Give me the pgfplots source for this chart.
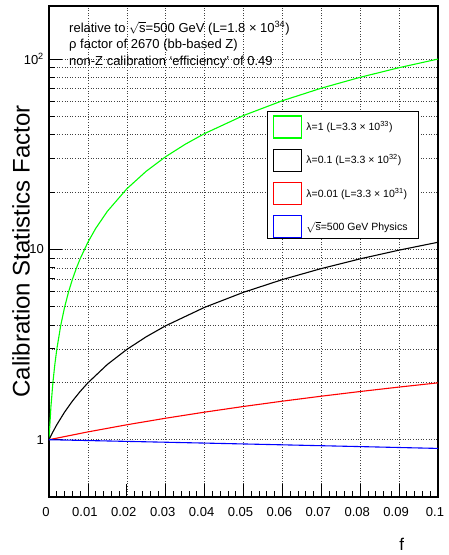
\documentclass[border=0pt]{standalone}
\usepackage{fontspec}
\setmainfont{Liberation Sans}
\usepackage{pgfplots}
\pgfplotsset{compat=1.18}
\definecolor{rgreen}{RGB}{0,255,0}
\definecolor{rred}{RGB}{255,0,0}
\definecolor{rblue}{RGB}{0,0,255}
\begin{document}
\begin{tikzpicture}
\path[use as bounding box] (-49pt,-58pt) rectangle (400pt,497pt);
\begin{axis}[
 at={(0pt,0pt)}, anchor=south west,
 scale only axis, width=389pt, height=491pt,
 xmin=0, xmax=0.1, ymin=0.5, ymax=190,
 ymode=log,
 axis line style={line width=1.2pt},
 tick pos=left, tick align=inside,
 xtick={0,0.01,0.02,0.03,0.04,0.05,0.06,0.07,0.08,0.09,0.1},
 xticklabels={0,0.01,0.02,0.03,0.04,0.05,0.06,0.07,0.08,0.09,0.1},
 minor x tick num=4,
 ytick={1,10,100}, yticklabels={1,10,10\textsuperscript{2}},
 major tick length=13pt, minor tick length=6pt,
 every tick/.style={line width=0.8pt, black},
 xmajorgrids, ymajorgrids, yminorgrids,
 grid style={dotted, line width=0.6pt, black!75},
 major grid style={dotted, line width=0.6pt, black!75},
 minor grid style={dotted, line width=0.6pt, black!75},
 ticklabel style={font=\fontsize{13}{15}\selectfont},
 xticklabel style={anchor=north, inner sep=0pt, yshift=-10pt, xshift=-3pt},
 yticklabel style={anchor=east, inner sep=0pt, xshift=-5pt},
 xlabel={f},
 xlabel style={at={(rel axis cs:0.907,0)}, anchor=base, yshift=-53pt, font=\fontsize{17}{20}\selectfont, inner sep=0pt},
 ylabel={Calibration Statistics Factor},
 ylabel style={at={(axis description cs:-0.0488,0.5)}, anchor=south, inner sep=0pt, font=\fontsize{24}{28}\selectfont},
 legend style={at={(0.5758,0.778)}, anchor=north west, draw=none, fill=none,
   font=\fontsize{10.5}{12}\selectfont, inner sep=0pt, row sep=10pt, column sep=4pt,
   nodes={inner sep=0pt}, cells={anchor=west}},
]
\addplot[rgreen, line width=1.1pt,
  legend image code/.code={\draw[draw=rgreen, line width=1.3pt] (0pt,-11pt) rectangle (28pt,11pt);}] coordinates {
 (0,1) (0.0005,1.495) (0.001,1.99) (0.0015,2.485) (0.002,2.98) (0.003,3.97) (0.004,4.96)
 (0.005,5.95) (0.006,6.94) (0.007,7.93) (0.008,8.92) (0.01,10.9) (0.012,12.88) (0.015,15.85)
 (0.02,20.8) (0.025,25.75) (0.03,30.7) (0.035,35.65) (0.04,40.6) (0.05,50.5) (0.06,60.4)
 (0.07,70.3) (0.08,80.2) (0.09,90.1) (0.1,100)};
\addlegendentry{λ=1 (L=3.3 × 10\textsuperscript{33})}
\addplot[black, line width=1.1pt,
  legend image code/.code={\draw[draw=black, line width=1.3pt] (0pt,-11pt) rectangle (28pt,11pt);}] coordinates {
 (0,1) (0.001,1.099) (0.002,1.198) (0.004,1.396) (0.006,1.594) (0.008,1.792) (0.01,1.99)
 (0.015,2.485) (0.02,2.98) (0.025,3.475) (0.03,3.97) (0.04,4.96) (0.05,5.95) (0.06,6.94)
 (0.07,7.93) (0.08,8.92) (0.09,9.91) (0.1,10.9)};
\addlegendentry{λ=0.1 (L=3.3 × 10\textsuperscript{32})}
\addplot[rred, line width=1.1pt,
  legend image code/.code={\draw[draw=rred, line width=1.3pt] (0pt,-11pt) rectangle (28pt,11pt);}] coordinates {
 (0,1) (0.01,1.099) (0.02,1.198) (0.03,1.297) (0.04,1.396) (0.05,1.495) (0.06,1.594)
 (0.07,1.693) (0.08,1.792) (0.09,1.891) (0.1,1.99)};
\addlegendentry{λ=0.01 (L=3.3 × 10\textsuperscript{31})}
\addplot[rblue, line width=1.1pt,
  legend image code/.code={\draw[draw=rblue, line width=1.3pt] (0pt,-11pt) rectangle (28pt,11pt);}] coordinates {
 (0,1) (0.02,0.98) (0.04,0.96) (0.06,0.94) (0.08,0.92) (0.1,0.9)};
\addlegendentry{$\sqrt{\hbox{s}}$=500 GeV Physics}
\filldraw[fill=white, draw=black, line width=0.8pt] (rel axis cs:0.5604,0.7862) rectangle (rel axis cs:0.9486,0.5275);
\node[anchor=base west, inner sep=0pt, font=\fontsize{13}{15}\selectfont] at (rel axis cs:0.0514,0.947)
  {relative to $\sqrt{\hbox{s}}$=500 GeV (L=1.8 × 10\textsuperscript{34})};
\node[anchor=base west, inner sep=0pt, font=\fontsize{13}{15}\selectfont] at (rel axis cs:0.0514,0.9134)
  {ρ factor of 2670 (bb-based Z)};
\node[anchor=base west, inner sep=0pt, font=\fontsize{13}{15}\selectfont] at (rel axis cs:0.0514,0.8778)
  {non-Z calibration `efficiency' of 0.49};
\end{axis}
\end{tikzpicture}
\end{document}
